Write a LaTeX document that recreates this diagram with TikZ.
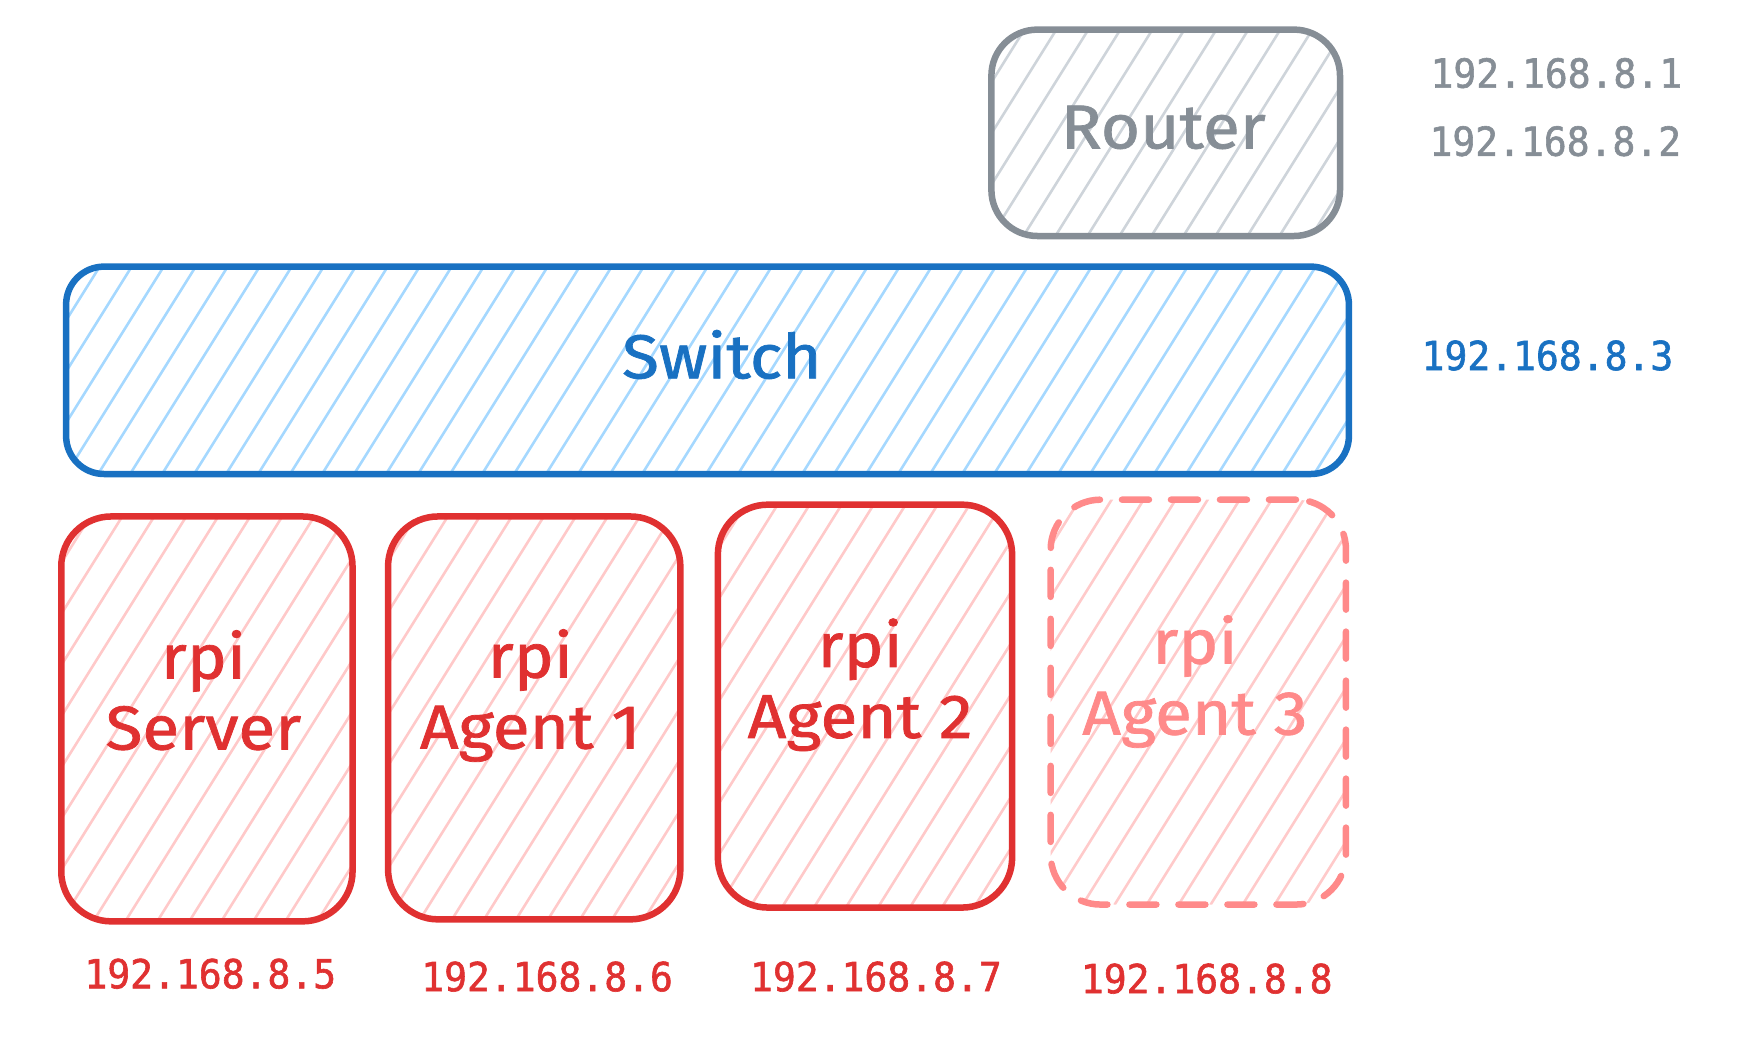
\documentclass[tikz,border=0pt]{standalone}
\usepackage{fontspec}
\setmainfont{Fira Sans}
\newfontfamily\handfont[FakeStretch=1.09,FakeBold=1.2]{Fira Sans}
\newfontfamily\ipfont[FakeBold=1.5,FakeStretch=0.95]{DejaVu Sans Mono}
\usetikzlibrary{calc}
\definecolor{routerS}{HTML}{868E96}
\definecolor{routerH}{HTML}{CED4DA}
\definecolor{switchS}{HTML}{1971C2}
\definecolor{switchH}{HTML}{A5D8FF}
\definecolor{rpiS}{HTML}{E03131}
\definecolor{rpiH}{HTML}{FFC9C9}
\definecolor{ghostS}{HTML}{FF8A8A}
\definecolor{ghostH}{HTML}{FFCACA}
\tikzset{
  hatchbox/.style 2 args={draw=#1, line width=6.5pt, rounded corners=50pt, inner sep=0pt,
    path picture={\foreach \k in {-15,...,45}
      \draw[#2, solid, line width=2.6pt] ($(path picture bounding box.south west)+(\k*32pt,0)$) -- ++(58:2000pt);}},
  handtext/.style={text=#1, font=\handfont\fontsize{62}{71}\selectfont, align=center, inner sep=0pt},
  iptext/.style={text=#1, font=\ipfont\fontsize{40}{44}\selectfont, inner sep=0pt},
}
\begin{document}
\begin{tikzpicture}[x=1pt,y=-1pt]
\path[use as bounding box] (0,0) rectangle (1742,1037);

% Router
\node[hatchbox={routerS}{routerH}, rounded corners=46pt, minimum width=348.6pt, minimum height=206.4pt] (router) at (1165.7,132.8) {};
\node[handtext=routerS] (routertxt) at (1163.3,127.4) {Router};
\node[iptext=routerS] (ip1) at (1556.3,73.1) {192.168.8.1};
\node[iptext=routerS] (ip2) at (1555.3,141.2) {192.168.8.2};

% Switch
\node[hatchbox={switchS}{switchH}, rounded corners=38pt, minimum width=1282.8pt, minimum height=207.4pt] (switch) at (707.5,370.3) {};
\node[handtext=switchS] (switchtxt) at (721.9,354.5) {Switch};
\node[iptext=switchS] (ip3) at (1547.4,355.5) {192.168.8.3};

% rpi boxes
\node[hatchbox={rpiS}{rpiH}, minimum width=291.3pt, minimum height=404.9pt] (server) at (206.9,718.9) {};
\node[handtext=rpiS] (servertxt) at (203.4,690.2) {rpi\\Server};
\node[iptext=rpiS] (ip5) at (210.3,973.7) {192.168.8.5};

\node[hatchbox={rpiS}{rpiH}, minimum width=292.3pt, minimum height=402.9pt] (agent1) at (534.2,717.9) {};
\node[handtext=rpiS] (agent1txt) at (530.3,695.5) {rpi\\Agent 1};
\node[iptext=rpiS] (ip6) at (547.1,976.6) {192.168.8.6};

\node[hatchbox={rpiS}{rpiH}, minimum width=294.3pt, minimum height=402.9pt] (agent2) at (865,706.1) {};
\node[handtext=rpiS] (agent2txt) at (860.1,684.8) {rpi\\Agent 2};
\node[iptext=rpiS] (ip7) at (875.9,976.6) {192.168.8.7};

\node[hatchbox={ghostS}{ghostH}, dash pattern=on 27pt off 22pt, line cap=round, minimum width=295.3pt, minimum height=404.9pt] (agent3) at (1198.3,702.1) {};
\node[handtext=ghostS] (agent3txt) at (1194.9,681.5) {rpi\\Agent 3};
\node[iptext=rpiS] (ip8) at (1206.7,978.6) {192.168.8.8};
\end{tikzpicture}
\end{document}
